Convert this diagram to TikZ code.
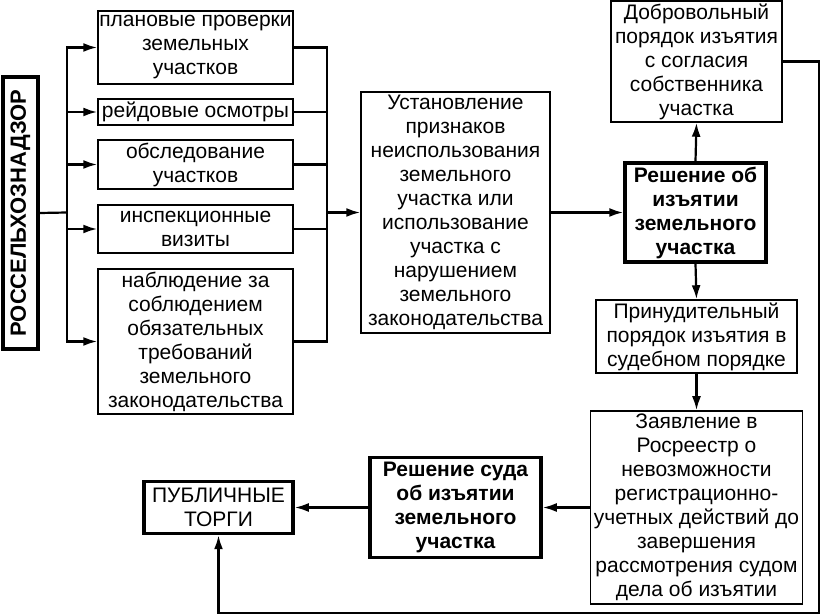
\documentclass[tikz,border=0pt]{standalone}
\usepackage{fontspec}
\setmainfont{Liberation Sans}
\usetikzlibrary{positioning, calc, arrows.meta}

\tikzset{
    box/.style={
        draw, line width=1.5pt, align=center,
        inner xsep=1pt, inner ysep=0pt,
        font=\fontsize{21}{24}\selectfont
    },
    boldbox/.style={
        box, line width=3.5pt,
        font=\fontsize{21}{24}\selectfont\bfseries
    },
    arr/.style={
        line width=2.2pt,
        -{Latex[length=14pt, width=9pt]}
    },
    ln/.style={line width=2.2pt}
}

\begin{document}
\begin{tikzpicture}[x=1pt, y=1pt]
    \useasboundingbox (0,0) rectangle (820,616);

    % left column
    \node[boldbox, minimum width=272, minimum height=35, rotate=90,
          font=\fontsize{22}{24}\selectfont\bfseries]
        (ros) at (20.5,403) {РОССЕЛЬХОЗНАДЗОР};

    \node[box, minimum width=195, minimum height=73]
        (plan) at (195.5,568.5) {плановые проверки\\земельных\\участков};
    \node[box, minimum width=195, minimum height=26]
        (reid) at (195.5,504) {рейдовые осмотры};
    \node[box, minimum width=195, minimum height=49]
        (obsl) at (195.5,451.5) {обследование\\участков};
    \node[box, minimum width=195, minimum height=48]
        (insp) at (195.5,387) {инспекционные\\визиты};
    \node[box, minimum width=195, minimum height=145]
        (nabl) at (195.5,274.5) {наблюдение за\\соблюдением\\обязательных\\требований\\земельного\\законодательства};

    % middle
    \node[box, minimum width=189, minimum height=241]
        (ust) at (455.5,403.5) {Установление\\признаков\\неиспользования\\земельного\\участка или\\использование\\участка с\\нарушением\\земельного\\законодательства};

    % right column
    \node[boldbox, minimum width=141, minimum height=99]
        (resh) at (695.5,403.5) {Решение об\\изъятии\\земельного\\участка};
    \node[box, minimum width=171, minimum height=121]
        (dobr) at (696.5,554.5) {Добровольный\\порядок изъятия\\с согласия\\собственника\\участка};
    \node[box, minimum width=201, minimum height=73]
        (prin) at (696.5,279.5) {Принудительный\\порядок изъятия в\\судебном порядке};
    \node[box, minimum width=212, minimum height=193]
        (zayav) at (696.5,108.5) {Заявление в\\Росреестр о\\невозможности\\регистрационно-\\учетных действий до\\завершения\\рассмотрения судом\\дела об изъятии};

    % bottom row
    \node[boldbox, minimum width=171, minimum height=100]
        (sud) at (455.5,108.5) {Решение суда\\об изъятии\\земельного\\участка};
    \node[box, line width=3.5pt, minimum width=149, minimum height=52]
        (pub) at (218.5,108.5) {ПУБЛИЧНЫЕ\\ТОРГИ};

    % trunks
    \coordinate (lt) at (67,403.5);
    \coordinate (rt) at (327,403.5);
    \coordinate (ec) at (819,3);

    \draw[ln] (ros.south) -- (lt);
    \foreach \b in {plan, reid, obsl, insp, nabl}
        \draw[arr] (lt) |- (\b.west);
    \foreach \b in {plan, reid, obsl, insp, nabl}
        \draw[ln] (\b.east) -| (rt);
    \draw[arr] (rt) -- (ust.west);

    \draw[arr] (ust.east) -- (resh.west);
    \draw[arr] (resh.north) -- (dobr.south);
    \draw[arr] (resh.south) -- (prin.north);
    \draw[arr] (prin.south) -- (zayav.north);
    \draw[arr] (zayav.west) -- (sud.east);
    \draw[arr] (sud.west) -- (pub.east);
    \draw[arr] (dobr.east) -| (ec) -| (pub.south);
\end{tikzpicture}
\end{document}
